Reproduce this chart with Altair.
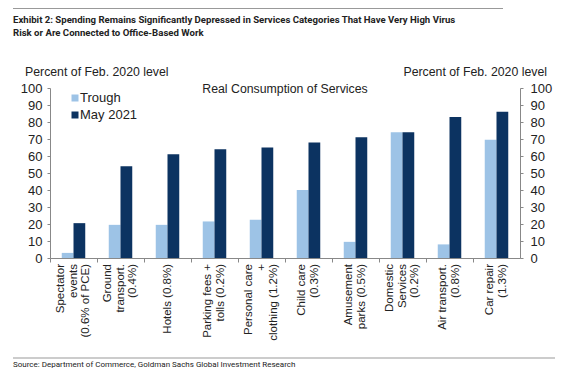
import altair as alt
import pandas as pd

categories = [
    "Spectator\nevents\n(0.6% of PCE)",
    "Ground\ntransport.\n(0.4%)",
    "Hotels (0.8%)",
    "Parking fees +\ntolls (0.2%)",
    "Personal care\n+\nclothing (1.2%)",
    "Child care\n(0.3%)",
    "Amusement\nparks (0.5%)",
    "Domestic\nServices\n(0.2%)",
    "Air transport.\n(0.8%)",
    "Car repair\n(1.3%)",
]
series = ["Trough", "May 2021"]
trough = [3, 19.5, 19.5, 21.5, 22.5, 40, 9.5, 74, 8, 69.5]
may2021 = [20.5, 54, 61, 64, 65, 68, 71, 74, 83, 86]
colors = ["#9DC3E6", "#0C3361"]

title_lines = [
    "Exhibit 2: Spending Remains Significantly Depressed in Services Categories That Have Very High Virus",
    "Risk or Are Connected to Office-Based Work",
]
axis_title = "Percent of Feb. 2020 level"
chart_title = "Real Consumption of Services"
source = "Source: Department of Commerce, Goldman Sachs Global Investment Research"

rows = []
for c, t, m in zip(categories, trough, may2021):
    rows.append({"category": c, "series": series[0], "value": t})
    rows.append({"category": c, "series": series[1], "value": m})
df = pd.DataFrame(rows)
cat_df = pd.DataFrame({"category": categories,
                       "nlines": [c.count("\n") + 1 for c in categories]})

W, H = 470, 170
LH = 12.5
FONT = "Liberation Sans, Arial, sans-serif"
TFONT = "Roboto, Liberation Sans, sans-serif"

xenc = alt.X("category:N", sort=categories,
             scale=alt.Scale(paddingInner=0, paddingOuter=0),
             axis=alt.Axis(labels=False, title=None, bandPosition=0, tickSize=4,
                           domainColor="#888", tickColor="#888"))
yscale = alt.Scale(domain=[0, 100])

bars = alt.Chart(df).mark_bar().encode(
    x=xenc,
    xOffset=alt.XOffset("series:N", sort=series,
                        scale=alt.Scale(paddingInner=0, paddingOuter=1)),
    y=alt.Y("value:Q", scale=yscale,
            axis=alt.Axis(orient="left", values=list(range(0, 101, 10)), title=None,
                          grid=False, tickSize=3, labelPadding=5, labelFontSize=13,
                          labelFont=FONT, labelColor="#222",
                          domainColor="#888", tickColor="#888")),
    color=alt.Color("series:N", sort=series,
                    scale=alt.Scale(domain=series, range=colors), legend=None),
)

right_axis = alt.Chart(df).mark_bar(opacity=0).encode(
    x=alt.X("category:N", sort=categories),
    y=alt.Y("value:Q", scale=yscale,
            axis=alt.Axis(orient="right", values=list(range(0, 101, 10)), title=None,
                          grid=False, tickSize=3, labelPadding=7, labelFontSize=13,
                          labelFont=FONT, labelColor="#222",
                          domainColor="#888", tickColor="#888")),
)

def label_layer(n):
    return alt.Chart(cat_df).transform_filter(
        alt.datum.nlines == n
    ).mark_text(
        angle=270, align="right", baseline="middle", lineBreak="\n",
        fontSize=11.5, lineHeight=LH, font=FONT, color="#222",
        dy=-(n - 1) * LH / 2,
    ).encode(
        x=alt.X("category:N", sort=categories),
        y=alt.value(H + 6),
        text="category:N",
    )

labels = [label_layer(n) for n in (1, 2, 3)]

def txt(s, x, y, size=13, align="left", font=FONT, weight="normal", color="#222"):
    return alt.Chart(pd.DataFrame({"t": [s]})).mark_text(
        align=align, baseline="middle", fontSize=size, font=font,
        fontWeight=weight, color=color,
    ).encode(x=alt.value(x), y=alt.value(y), text="t:N")

def rule(x1, x2, y):
    return alt.Chart(pd.DataFrame({"a": [0]})).mark_rule(color="#999", strokeWidth=1.2).encode(
        x=alt.value(x1), x2=alt.value(x2), y=alt.value(y))

def square(x, y, color):
    return alt.Chart(pd.DataFrame({"a": [0]})).mark_square(
        size=49, color=color, opacity=1).encode(x=alt.value(x), y=alt.value(y))

annot = [
    rule(-37, 453, -79.5),
    txt(title_lines[0], -37, -68, size=9.6, font=TFONT, weight="bold"),
    txt(title_lines[1], -37, -55, size=9.6, font=TFONT, weight="bold"),
    txt(axis_title, -25, -16, size=12.3),
    txt(axis_title, 497, -16, size=12.3, align="right"),
    txt(chart_title, 235, 1, size=12.3, align="center"),
    square(25, 10, colors[0]),
    square(25, 27, colors[1]),
    txt(series[0], 30, 10, size=13),
    txt(series[1], 30, 27, size=13),
    rule(-37, 505, 270),
    txt(source, -37, 277, size=8, font=TFONT),
]

chart = alt.layer(bars, right_axis, *labels, *annot).resolve_axis(y="independent").properties(
    width=W, height=H,
    autosize=alt.AutoSizeParams(type="none"),
    padding={"left": 42, "top": 80, "right": 48, "bottom": 112},
).configure_view(stroke=None).configure_axis(labelFont=FONT)

chart.save("out.html", embed_options={"renderer": "svg", "actions": False})
